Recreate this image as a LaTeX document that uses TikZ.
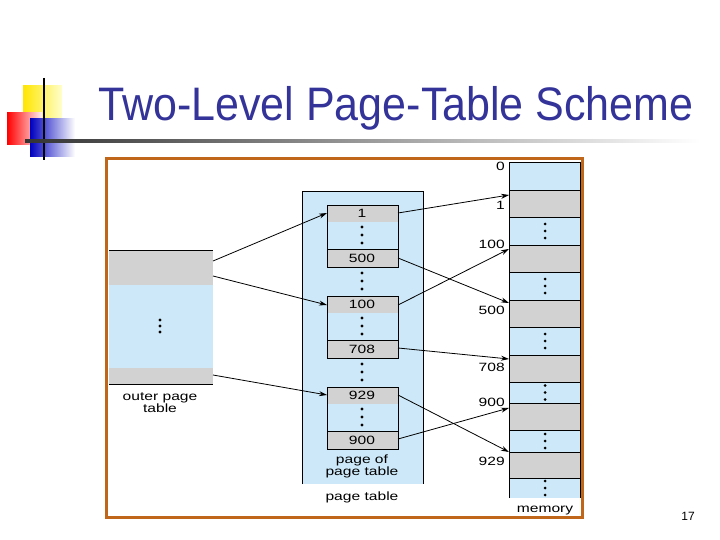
\documentclass[tikz,border=0pt]{standalone}
\usepackage{fontspec}
\setmainfont{Liberation Sans}
\usetikzlibrary{arrows.meta}
\definecolor{lb}{HTML}{CDE9F9}
\definecolor{gr}{HTML}{D2D2D2}
\definecolor{tb}{HTML}{333399}
\definecolor{fr}{HTML}{C0661A}
\begin{document}
\begin{tikzpicture}[x=1pt,y=-1pt,
  lbl/.style={font=\fontsize{12}{12}\selectfont, inner sep=0pt, xscale=1.3},
  arr/.style={-{Stealth[length=8pt,width=5pt]}, line width=0.8pt},
  cell/.style={draw=black, line width=0.6pt}]
\useasboundingbox (0,0) rectangle (720,540);
% decoration
\shade[left color=yellow!80!orange, right color=yellow!20] (23,86) rectangle (62,118);
\shade[left color=red, right color=red!5] (7,113) rectangle (42,145);
\shade[left color=blue!75!black, right color=white] (30,119) rectangle (75,157);
\draw[line width=1.5pt] (44,78) -- (44,160);
\shade[left color=black!80, right color=white] (25,140) rectangle (700,142.5);
\node[text=tb, font=\fontsize{47}{50}\selectfont, inner sep=0pt, anchor=base, xscale=0.915] (title) at (396,121) {Two-Level Page-Table Scheme};
% frame
\draw[fr, line width=3pt] (106,159) rectangle (582,517);
% outer page table
\fill[gr] (109,250) rectangle (213,285);
\fill[lb] (109,285) rectangle (213,368);
\fill[gr] (109,368) rectangle (213,384);
\draw[cell] (109,250) -- (213,250) (109,384) -- (213,384);
\node[lbl, align=center] (otl) at (160,403) {outer page\\table};
\foreach \y in {320,326,332} \fill (160,\y) circle (1.6);
\coordinate (o1) at (213,261);
\coordinate (o2) at (213,276);
\coordinate (o3) at (213,375);
% page table
\fill[lb] (302,191) rectangle (423,484);
\draw[line width=0.6pt] (302,484) -- (302,191) -- (423,191) -- (423,484);
\node[lbl] (ptl) at (362,497) {page table};
\node[lbl, align=center] (ppt) at (362,466) {page of\\page table};
% inner pages
\foreach \t/\a/\b in {205/1/500, 296/100/708, 387/929/900}{
  \pgfmathsetmacro{\tg}{\t+17}
  \pgfmathsetmacro{\bt}{\t+44}
  \pgfmathsetmacro{\bb}{\t+62}
  \fill[gr] (327,\t) rectangle (398,\tg);
  \fill[gr] (327,\bt) rectangle (398,\bb);
  \draw[cell] (327,\t) rectangle (398,\bb);
  \draw[cell] (327,\bt) -- (398,\bt);
  \node[lbl] at (362,{(\t+\tg)/2}) {\a};
  \node[lbl] at (362,{(\bt+\bb)/2}) {\b};
  \foreach \d in {227,235,243} \fill (362,{\t+\d-205}) circle (1.6);
}
\foreach \y in {273,281,289, 364,372,380} \fill (362,\y) circle (1.6);
\coordinate (p1) at (398,213); \coordinate (p1i) at (327,213);
\coordinate (p5) at (398,258);
\coordinate (p10) at (398,305); \coordinate (p10i) at (327,305);
\coordinate (p7) at (398,348);
\coordinate (p9) at (398,395); \coordinate (p9i) at (327,395);
\coordinate (p90) at (398,439);
% memory
\fill[lb] (509,162) rectangle (580,498);
\foreach \a/\b in {190/217,245/272,300/327,355/382,403/430,452/478}
  \fill[gr] (509,\a) rectangle (580,\b);
\draw[line width=0.6pt] (509,498) -- (509,162) -- (580,162) -- (580,498);
\foreach \y in {190,217,245,272,300,327,355,382,403,430,452,478}
  \draw[line width=0.6pt] (509,\y) -- (580,\y);
\foreach \a/\b in {217/245,272/300,327/355,382/403,430/452,478/498}
  \foreach \k in {-7,0,7} \fill (545,{(\a+\b)/2+\k}) circle (1.5);
\node[lbl] (ml) at (545,511) {memory};
\foreach \v/\y in {0/166,1/205,100/244,500/310,708/367,900/402,929/461}
  \node[lbl, anchor=east] at (505,\y) {\v};
\coordinate (m1) at (509,195);
\coordinate (m100) at (509,249);
\coordinate (m500) at (509,303);
\coordinate (m708) at (509,359);
\coordinate (m900) at (509,408);
\coordinate (m929) at (509,452);
% arrows
\draw[arr] (o1) -- (p1i);
\draw[arr] (o2) -- (p10i);
\draw[arr] (o3) -- (p9i);
\draw[arr] (p1) -- (m1);
\draw[arr] (p5) -- (m500);
\draw[arr] (p10) -- (m100);
\draw[arr] (p7) -- (m708);
\draw[arr] (p9) -- (m929);
\draw[arr] (p90) -- (m900);
\node[font=\fontsize{12}{14}\selectfont, inner sep=0pt] (pn) at (688,516) {17};
\end{tikzpicture}
\end{document}
